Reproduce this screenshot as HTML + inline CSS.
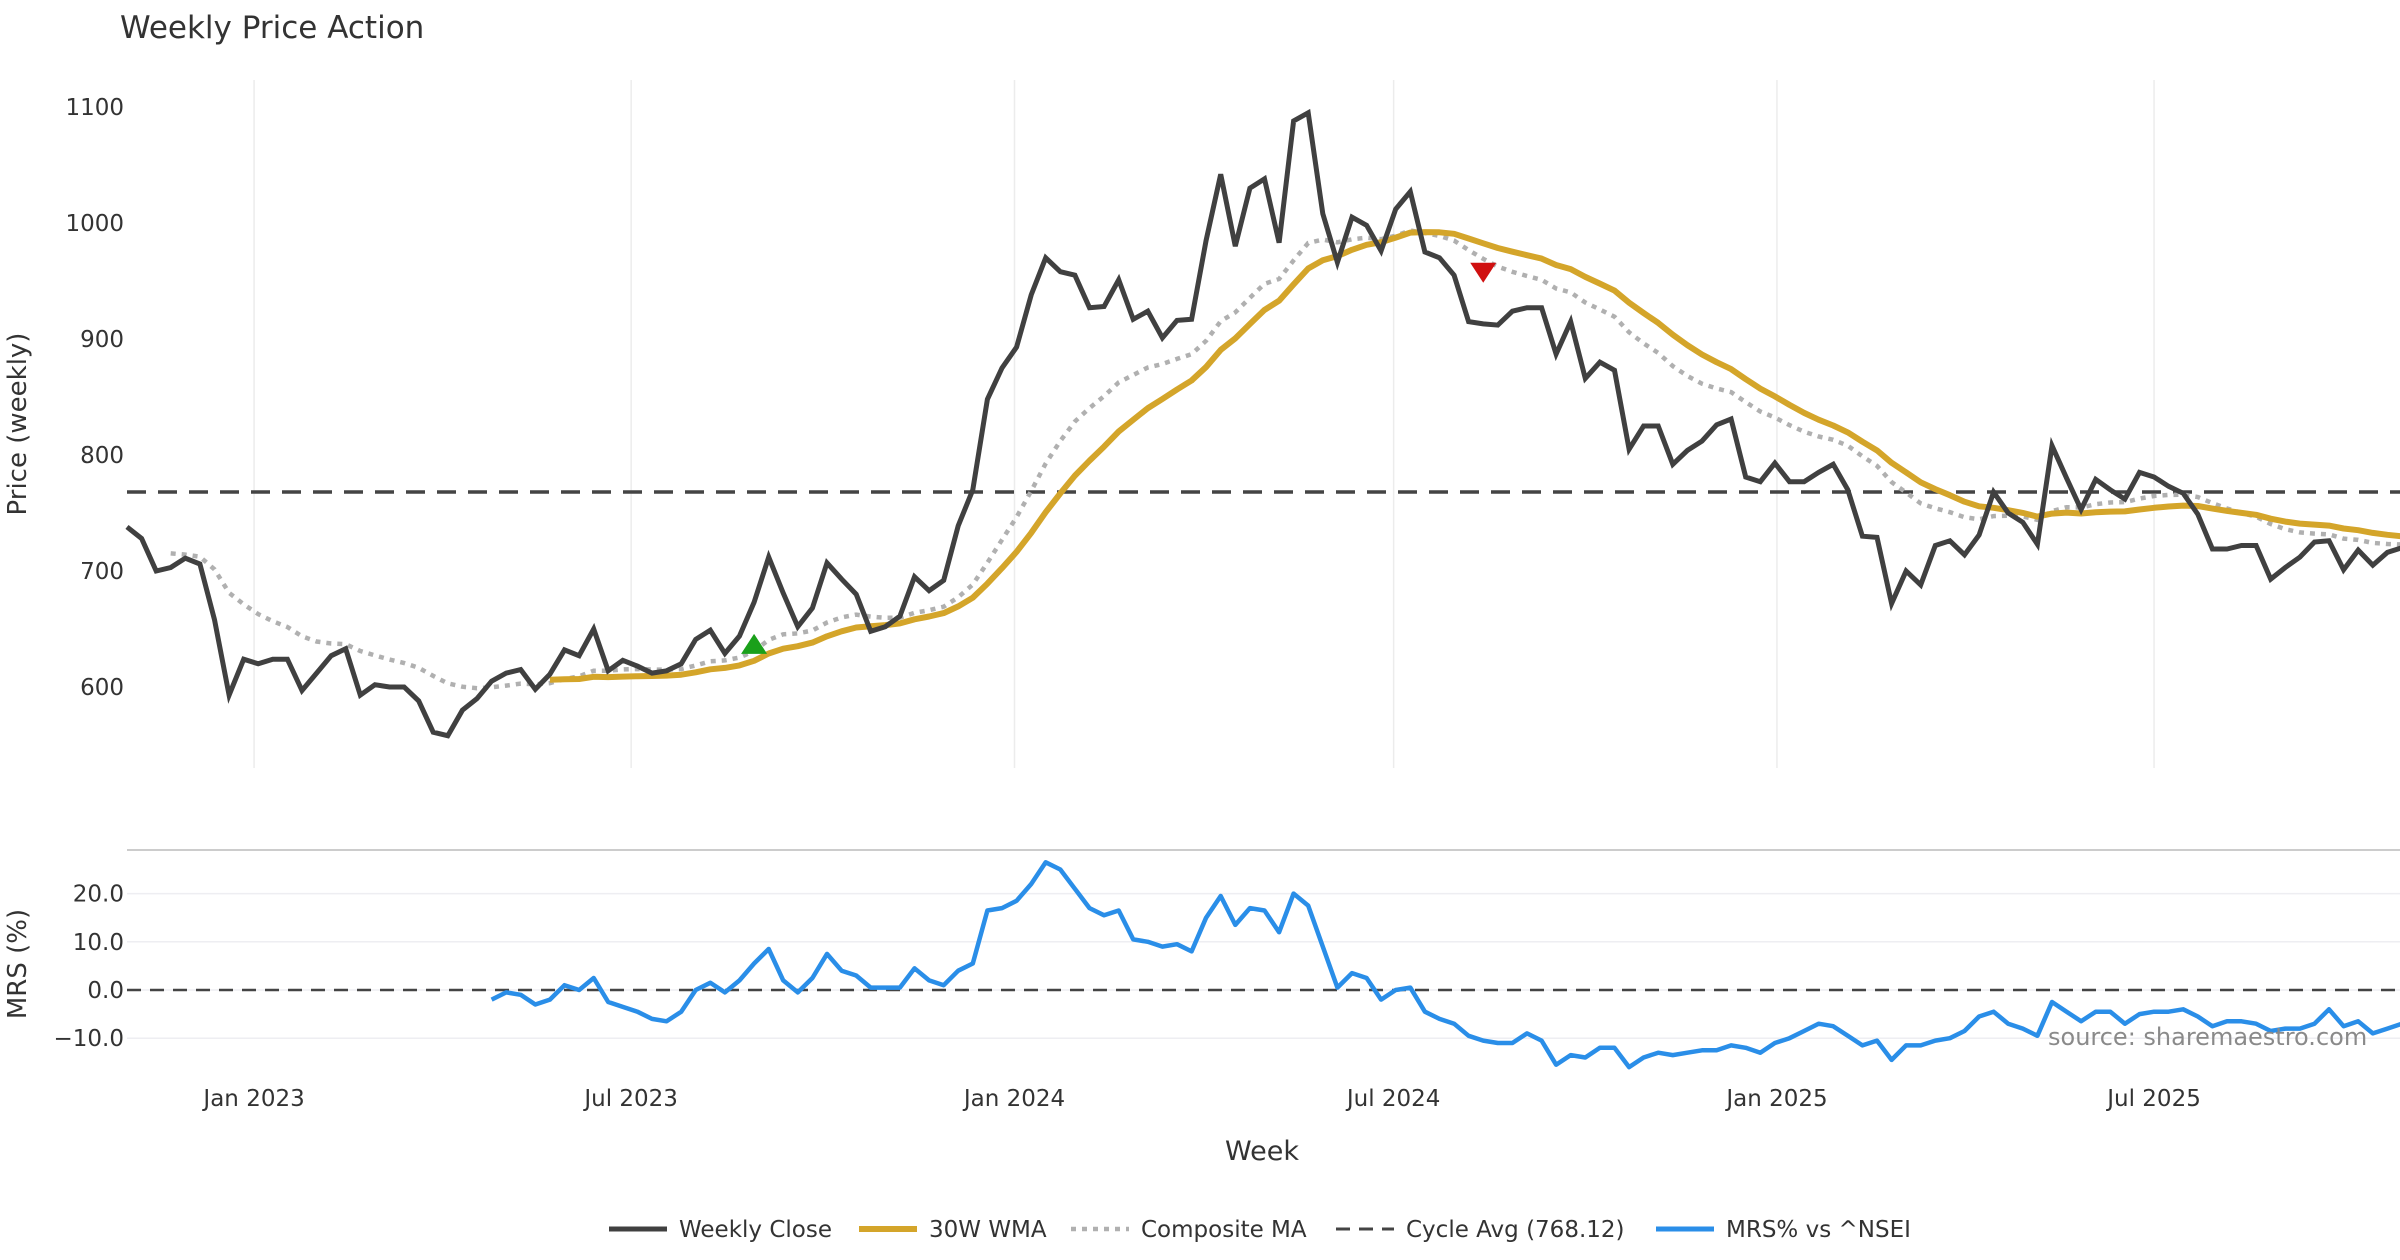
<!DOCTYPE html>
<html><head><meta charset="utf-8"><style>
html,body{margin:0;padding:0;background:#fff;}
svg{display:block;font-family:"DejaVu Sans","Liberation Sans",sans-serif;}
</style></head><body>
<svg id="chart" width="2400" height="1260" viewBox="0 0 2400 1260" xmlns="http://www.w3.org/2000/svg">
<text x="120" y="38" font-size="31" fill="#333">Weekly Price Action</text>
<g id="grid"></g>
<g id="axes"></g>
<g id="series"></g>
<text transform="translate(26,424) rotate(-90)" text-anchor="middle" font-size="26" fill="#333">Price (weekly)</text>
<text transform="translate(26,964) rotate(-90)" text-anchor="middle" font-size="26" fill="#333">MRS (%)</text>
<text x="1262" y="1160" text-anchor="middle" font-size="27" fill="#333">Week</text>
<text x="2048" y="1045" font-size="24" fill="#8a8a8a">source: sharemaestro.com</text>
<g id="legend"></g>
</svg>
<script>
const closes=[738,728,700,703,711,706,658,593,624,620,624,624,597,612,627,633,593,602,600,600,588,561,558,580,590,605,612,615,598,611,632,627,650,614,623,618,612,614,620,641,649,629,644,673,712,681,652,668,707,693,680,648,652,661,695,683,692,739,770,848,875,893,938,970,958,955,927,928,951,917,924,901,916,917,985,1042,980,1030,1038,983,1088,1095,1008,966,1005,998,976,1012,1027,975,970,955,915,913,912,924,927,927,887,915,866,880,873,805,825,825,792,804,812,826,831,781,777,793,777,777,785,792,770,730,729,672,700,688,722,726,714,731,768,750,742,723,808,780,753,779,770,762,785,781,773,767,749,719,719,722,722,693,703,712,725,726,701,718,705,716,720];
const mrs=[-2,-0.5,-1,-3,-2,1,0,2.5,-2.5,-3.5,-4.5,-6,-6.5,-4.5,0,1.5,-0.5,2,5.5,8.5,2,-0.5,2.5,7.5,4,3,0.5,0.5,0.5,4.5,2,1,4,5.5,16.5,17,18.5,22,26.5,25,21,17,15.5,16.5,10.5,10,9,9.5,8,15,19.5,13.5,17,16.5,12,20,17.5,9,0.5,3.5,2.5,-2,0,0.5,-4.5,-6,-7,-9.5,-10.5,-11,-11,-9,-10.5,-15.5,-13.5,-14,-12,-12,-16,-14,-13,-13.5,-13,-12.5,-12.5,-11.5,-12,-13,-11,-10,-8.5,-7,-7.5,-9.5,-11.5,-10.5,-14.5,-11.5,-11.5,-10.5,-10,-8.5,-5.5,-4.5,-7,-8,-9.5,-2.5,-4.5,-6.5,-4.5,-4.5,-7,-5,-4.5,-4.5,-4,-5.5,-7.5,-6.5,-6.5,-7,-8.5,-8,-8,-7,-4,-7.5,-6.5,-9,-8,-7];
const cycleAvg=768.12;
const priceTicks=[600,700,800,900,1000,1100];
const mrsTicks=[20,10,0,-10];
const tickLabels=["Jan 2023","Jul 2023","Jan 2024","Jul 2024","Jan 2025","Jul 2025"];
const tickDates=["2023-01-01","2023-07-01","2024-01-01","2024-07-01","2025-01-01","2025-07-01"];
const buySignals=[43];
const sellSignals=[93];
const startDate="2022-11-01";

const NS="http://www.w3.org/2000/svg";
const pxPerDay=2.0833, X0=127;
function xIdx(i){return X0+i*7*pxPerDay;}
function xDate(d){return X0+(Date.parse(d)-Date.parse(startDate))/86400000*pxPerDay;}
function yP(v){return 107+(1100-v)*1.16;}
function yM(v){return 990-v*4.82;}
function el(tag,attrs,parent){const e=document.createElementNS(NS,tag);for(const k in attrs)e.setAttribute(k,attrs[k]);parent.appendChild(e);return e;}
const grid=document.getElementById('grid'),axes=document.getElementById('axes'),series=document.getElementById('series'),legend=document.getElementById('legend');

const wma=closes.map((c,i)=>{if(i<29)return null;let s=0,w=0;for(let k=0;k<30;k++){s+=closes[i-k]*(30-k);w+=30-k;}return s/w;});
const comp=closes.map((c,i)=>{if(i<3)return null;const a=2/17;let s=0,w=0;for(let k=0;k<=i;k++){const wt=Math.pow(1-a,k);s+=closes[i-k]*wt;w+=wt;}return s/w;});

tickDates.forEach((d,i)=>{
  const x=xDate(d);
  const g=el('line',{x1:x,x2:x,y1:80,y2:768,stroke:'#ececec','stroke-width':1.5},grid);
  
  
  const t=el('text',{x:x,y:1106,'text-anchor':'middle','font-size':23,fill:'#333'},axes);
  t.textContent=tickLabels[i];
  
  
});
priceTicks.forEach(v=>{
  const t=el('text',{x:124,y:yP(v)+8,'text-anchor':'end','font-size':23,fill:'#333'},axes);
  t.textContent=v;
  
  
});
const sep=el('line',{x1:127,x2:2400,y1:850,y2:850,stroke:'#cccccc','stroke-width':2},grid);


mrsTicks.forEach(v=>{
  const g=el('line',{x1:127,x2:2400,y1:yM(v),y2:yM(v),stroke:'#eeeef2','stroke-width':1.5},grid);
  
  
  const t=el('text',{x:124,y:yM(v)+8,'text-anchor':'end','font-size':23,fill:'#333'},axes);
  t.textContent=v.toFixed(1).replace('-','\u2212');
  
  
});
const zl=el('line',{x1:127,x2:2400,y1:yM(0),y2:yM(0),stroke:'#444','stroke-width':2.5,'stroke-dasharray':'14,9'},grid);


const cl=el('line',{x1:127,x2:2400,y1:yP(cycleAvg),y2:yP(cycleAvg),stroke:'#444','stroke-width':3.5,'stroke-dasharray':'19,12'},grid);



function path(arr,yf,off){let d='';arr.forEach((v,i)=>{if(v===null||v===undefined)return;d+=(d?'L':'M')+xIdx(i+off).toFixed(1)+','+yf(v).toFixed(1);});return d;}
const pc=el('path',{d:path(comp,yP,0),fill:'none',stroke:'#b0b0b0','stroke-width':4.5,'stroke-dasharray':'5,6'},series);


const pw=el('path',{d:path(wma,yP,0),fill:'none',stroke:'#d4a52a','stroke-width':6,'stroke-linejoin':'round'},series);


const pcl=el('path',{d:path(closes,yP,0),fill:'none',stroke:'#404040','stroke-width':5,'stroke-linejoin':'miter'},series);


const pm=el('path',{d:path(mrs,yM,closes.length-mrs.length),fill:'none',stroke:'#2a8ee8','stroke-width':4.5,'stroke-linejoin':'round'},series);


buySignals.forEach(i=>{
  const x=xIdx(i),y=yP(wma[i])-17;
  const t=el('polygon',{points:`${x-13},${y+10} ${x+13},${y+10} ${x},${y-10}`,fill:'#1aa01a'},series);
  
  
});
sellSignals.forEach(i=>{
  const x=xIdx(i),y=yP(comp[i])+14;
  const t=el('polygon',{points:`${x-13},${y-10} ${x+13},${y-10} ${x},${y+10}`,fill:'#d01010'},series);
  
  
});

const items=[["Weekly Close",609,{stroke:'#404040','stroke-width':5}],["30W WMA",859,{stroke:'#d4a52a','stroke-width':6}],["Composite MA",1071,{stroke:'#b0b0b0','stroke-width':4.5,'stroke-dasharray':'5,6'}],["Cycle Avg (768.12)",1336,{stroke:'#444','stroke-width':3,'stroke-dasharray':'14,9'}],["MRS% vs ^NSEI",1656,{stroke:'#2a8ee8','stroke-width':5}]];
items.forEach(([lab,x,st])=>{
  const g=el('g',{},legend);
  
  
  el('line',Object.assign({x1:x,x2:x+58,y1:1229,y2:1229},st),g);
  const t=el('text',{x:x+70,y:1237,'font-size':23,fill:'#333'},g);
  t.textContent=lab;
});
</script>
</body></html>
